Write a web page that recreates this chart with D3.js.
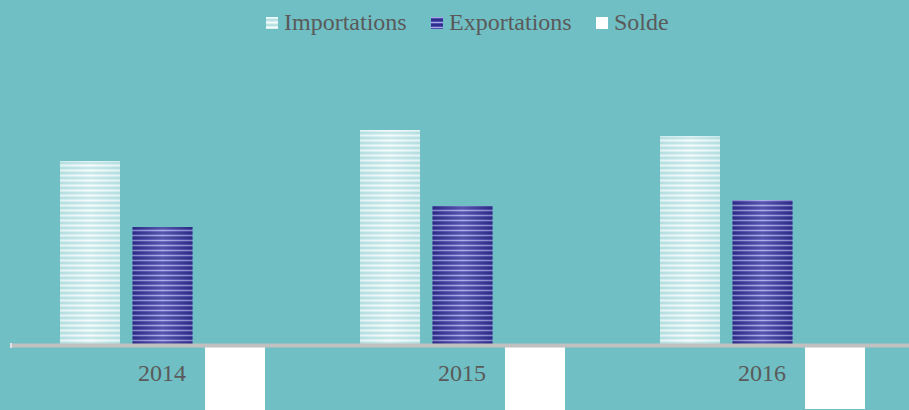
<!DOCTYPE html>
<html>
<head>
<meta charset="utf-8">
<script src="https://cdn.jsdelivr.net/npm/d3@7"></script>
<style>
  html, body { margin: 0; padding: 0; background: #70bfc4; }
  svg { display: block; }
</style>
</head>
<body>
<svg id="chart" width="909" height="410"></svg>
<script>
// values (arbitrary units)
var years = ['2014', '2015', '2016'];
var series = ['Importations', 'Exportations', 'Solde'];
var importations = [36.8, 43.0, 41.8];
var exportations = [23.6, 27.8, 29.0];
var solde = [-13.2, -15.2, -12.8];

var rows = years.map(function(y, i) {
  return {year: y, values: [importations[i], exportations[i], solde[i]]};
});

var svg = d3.select('#chart');
var defs = svg.append('defs');

// striped fills, like the office chart textures
function stripes(id, base, light, dark) {
  var p = defs.append('pattern')
    .attr('id', id)
    .attr('patternUnits', 'userSpaceOnUse')
    .attr('width', 8).attr('height', 5);
  p.append('rect').attr('width', 8).attr('height', 5).attr('fill', base);
  p.append('rect').attr('y', 0).attr('width', 8).attr('height', 1).attr('fill', light);
  p.append('rect').attr('y', 2).attr('width', 8).attr('height', 2).attr('fill', dark);
}
stripes('stripeImp', '#d9f0f1', '#f4fbfb', '#b9e0e3');
stripes('stripeExp', '#5050b0', '#a8a8e6', '#2f2f8e');

function sheen(id, edge, mid) {
  var g = defs.append('linearGradient').attr('id', id)
    .attr('x1', '0%').attr('x2', '100%').attr('y1', '0%').attr('y2', '0%');
  g.append('stop').attr('offset', '0%').attr('stop-color', edge).attr('stop-opacity', 0.25);
  g.append('stop').attr('offset', '50%').attr('stop-color', mid).attr('stop-opacity', 0.25);
  g.append('stop').attr('offset', '100%').attr('stop-color', edge).attr('stop-opacity', 0.25);
}
sheen('sheenImp', '#a9d9dc', '#ffffff');
sheen('sheenExp', '#20206a', '#c8c8ff');

var fills = {Importations: 'url(#stripeImp)', Exportations: 'url(#stripeExp)', Solde: '#ffffff'};
var sheens = {Importations: 'url(#sheenImp)', Exportations: 'url(#sheenExp)', Solde: null};
var swatch = {Importations: '#c9e8ea', Exportations: '#333399', Solde: '#ffffff'};

var x0 = d3.scaleBand().domain(years).range([10, 910]);
var x1 = d3.scaleBand().domain(series).range([50, 255]).paddingInner(0.172);
var y = d3.scaleLinear().domain([0, 43]).range([345, 130]);

var groups = svg.selectAll('g.year')
  .data(rows)
  .enter()
  .append('g')
  .attr('class', 'year')
  .attr('transform', function(d) { return 'translate(' + x0(d.year) + ',0)'; });

var bars = groups.selectAll('g.bar')
  .data(function(d) {
    return d.values.map(function(v, i) { return {key: series[i], value: v}; });
  })
  .enter()
  .append('g')
  .attr('class', 'bar');

bars.append('rect')
  .attr('x', function(d) { return x1(d.key); })
  .attr('y', function(d) { return y(Math.max(0, d.value)); })
  .attr('width', x1.bandwidth())
  .attr('height', function(d) { return Math.abs(y(d.value) - y(0)); })
  .attr('fill', function(d) { return fills[d.key]; });

bars.filter(function(d) { return sheens[d.key]; })
  .append('rect')
  .attr('x', function(d) { return x1(d.key); })
  .attr('y', function(d) { return y(Math.max(0, d.value)); })
  .attr('width', x1.bandwidth())
  .attr('height', function(d) { return Math.abs(y(d.value) - y(0)); })
  .attr('fill', function(d) { return sheens[d.key]; });

// category axis line
var axis = d3.axisBottom(x0).tickSize(0).tickPadding(19);
var ax = svg.append('g')
  .attr('transform', 'translate(0,' + y(0) + ')')
  .call(axis);
ax.select('.domain')
  .attr('stroke', '#c0c0c0')
  .attr('stroke-width', 4);
ax.selectAll('text')
  .attr('dx', 2)
  .attr('font-family', '"Liberation Serif", "Times New Roman", serif')
  .attr('font-size', 24)
  .attr('fill', '#5a5a5a');
svg.append('line')
  .attr('x1', 11).attr('x2', 11)
  .attr('y1', y(0) - 2).attr('y2', y(0) + 3)
  .attr('stroke', '#e0e0e0').attr('stroke-width', 2);

// legend
var legendX = [266, 431, 596];
var legend = svg.selectAll('g.legend')
  .data(series)
  .enter()
  .append('g')
  .attr('class', 'legend')
  .attr('transform', function(d, i) { return 'translate(' + legendX[i] + ',17)'; });
legend.append('rect')
  .attr('width', 12).attr('height', 12)
  .attr('fill', function(d) { return swatch[d]; });
legend.filter(function(d) { return d !== 'Solde'; })
  .append('rect')
  .attr('width', 12).attr('height', 12)
  .attr('fill', function(d) { return fills[d]; });
legend.append('text')
  .attr('x', 18)
  .attr('y', 13)
  .attr('font-family', '"Liberation Serif", "Times New Roman", serif')
  .attr('font-size', 24)
  .attr('fill', '#5a5a5a')
  .text(function(d) { return d; });
</script>
</body>
</html>
